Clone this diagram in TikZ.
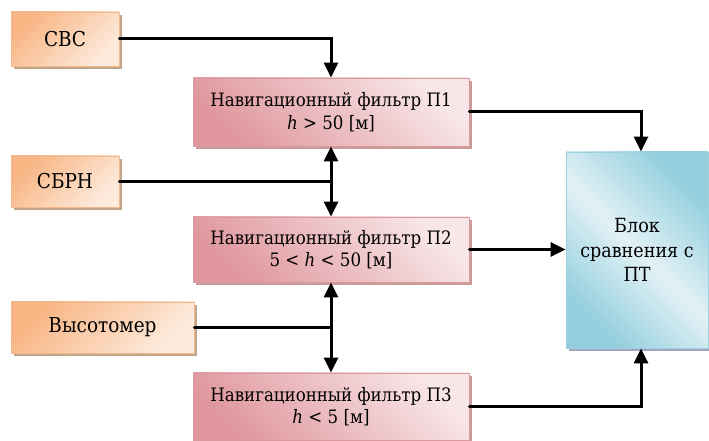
\documentclass[tikz,border=0pt]{standalone}
\usepackage{fontspec}
\setmainfont{DejaVu Serif Condensed}
\usetikzlibrary{arrows.meta,shadows,calc}
\definecolor{orD}{HTML}{F8B583}
\definecolor{orL}{HTML}{FDEBDD}
\definecolor{orB}{HTML}{F3B88C}
\definecolor{pkD}{HTML}{DF979D}
\definecolor{pkL}{HTML}{F8E6E8}
\definecolor{pkB}{HTML}{D99A9F}
\definecolor{blD}{HTML}{92CEDD}
\definecolor{blL}{HTML}{E2F1F6}
\definecolor{blB}{HTML}{9CD2E0}
\tikzset{
  srcbox/.style={draw=orB, line width=0.8pt, top color=orD, bottom color=orL, shading angle=45,
     drop shadow={shadow xshift=3pt, shadow yshift=-3pt, fill=brown!60!gray, opacity=0.7},
     font=\fontsize{20.5}{24}\selectfont, inner sep=0pt},
  filtbox/.style={draw=pkB, line width=0.8pt, bottom color=pkD, top color=pkL, shading angle=-45,
     drop shadow={shadow xshift=3pt, shadow yshift=-3pt, fill=gray!70!red, opacity=0.6},
     font=\fontsize{18.5}{22.5}\selectfont, align=center, inner sep=0pt, minimum width=276pt},
  cmpbox/.style={draw=blB, line width=0.8pt, top color=blD, bottom color=blD, middle color=blL, shading angle=-45,
     drop shadow={shadow xshift=3pt, shadow yshift=-3pt, fill=gray!80!blue, opacity=0.6},
     font=\fontsize{19.5}{24.5}\selectfont, align=center, inner sep=0pt},
  conn/.style={line width=3pt, line cap=round},
  arr/.style={conn, -{Triangle[width=14pt,length=15pt]}},
  darr/.style={line width=3pt, {Triangle[width=14pt,length=15pt]}-{Triangle[width=14pt,length=15pt]}}
}
\begin{document}
\begin{tikzpicture}[x=1pt,y=1pt]
\useasboundingbox (0,0) rectangle (709,441);
\node[srcbox, minimum width=108pt, minimum height=54pt] (svs) at (65,402) {СВС};
\node[srcbox, minimum width=108pt, minimum height=51pt] (sbrn) at (65,259.5) {СБРН};
\node[srcbox, minimum width=183pt, minimum height=51pt] (vys) at (102.5,113.5) {Высотомер};
\node[filtbox, minimum height=68pt] (p1) at (331,329) {Навигационный фильтр П1\\\textit{h} > 50 [м]};
\node[filtbox, minimum height=65pt] (p2) at (331,191.5) {Навигационный фильтр П2\\5 < \textit{h} < 50 [м]};
\node[filtbox, minimum height=67pt] (p3) at (331,34.5) {Навигационный фильтр П3\\\textit{h} < 5 [м]};
\node[cmpbox, minimum width=142pt, minimum height=196pt] (cmp) at (637,191) {Блок\\сравнения с\\ПТ};
\coordinate (cin) at ($(cmp.north)+(4,0)$);
\coordinate (cout) at ($(cmp.south)+(4,0)$);
\draw[arr] (svs.east) -| (p1.north);
\draw[darr] (p1.south) -- (p2.north);
\draw[darr] (p2.south) -- (p3.north);
\draw[conn] (sbrn.east) -- (sbrn.east -| p1.south);
\draw[conn] (vys.east) -- (vys.east -| p2.south);
\draw[arr] (p1.east) -| (cin);
\draw[arr] (p2.east) -- (p2.east -| cmp.west);
\draw[arr] (p3.east) -| (cout);
\end{tikzpicture}
\end{document}
